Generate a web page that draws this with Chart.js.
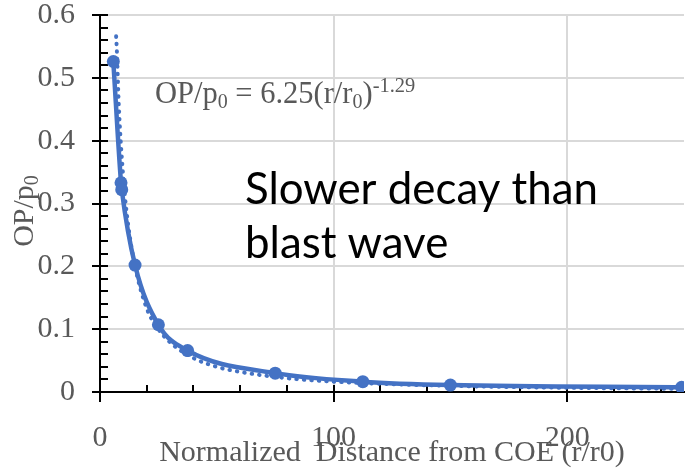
<!DOCTYPE html>
<html>
<head>
<meta charset="utf-8">
<script src="https://cdn.jsdelivr.net/npm/chart.js@4"></script>
<style>
    html, body { margin: 0; padding: 0; background: #fff; }
    canvas { display: block; }
</style>
</head>
<body>
<canvas id="decayChart" width="691" height="476"></canvas>
<script>
// Overpressure vs normalized distance

// measured points (big markers)
const distance = [5.7, 9.0, 9.3, 15, 25, 37.5, 75, 112.5, 150, 249];
const overpressure = [0.526, 0.333, 0.322, 0.202, 0.107, 0.066, 0.030, 0.0165, 0.011, 0.0075];

// power trendline (dotted)
const trendDistance = [6.9, 7.2, 8, 10, 12, 15, 20, 25, 30, 40, 50, 60, 80, 100, 125, 150, 175, 200, 225, 250];
const trendPressure = [0.566, 0.545, 0.46, 0.34, 0.268, 0.2, 0.133, 0.1, 0.079, 0.054, 0.040, 0.032, 0.022, 0.0165, 0.0125, 0.0098, 0.0080, 0.0067, 0.0058, 0.0051];

// axis ticks
const xTickValues = [0, 100, 200];
const xMinorStep = 20;
const yMinorStep = 0.02;

const BLUE = '#4472C4';
const GREY_TEXT = '#595959';
const GRID = '#d9d9d9';
const SERIF = '"Liberation Serif", "Times New Roman", serif';

function toPoints(xs, ys) {
    return xs.map((x, i) => ({ x: x, y: ys[i] }));
}

// draw a list of text runs (normal / sub / superscript) starting at x
function drawRuns(ctx, x, y, runs) {
    runs.forEach(run => {
        ctx.font = `${run.size}px ${SERIF}`;
        ctx.fillText(run.text, x, y + (run.dy || 0));
        x += ctx.measureText(run.text).width;
    });
}

function runsWidth(ctx, runs) {
    let w = 0;
    runs.forEach(run => {
        ctx.font = `${run.size}px ${SERIF}`;
        w += ctx.measureText(run.text).width;
    });
    return w;
}

// axis tick marks (major crossing, minor inside)
const axisTicks = {
    id: 'axisTicks',
    beforeDatasetsDraw(chart) {
        const { ctx, chartArea, scales } = chart;
        const xs = scales.x, ys = scales.y;
        ctx.save();
        ctx.strokeStyle = '#000';
        ctx.lineWidth = 2;
        ctx.beginPath();
        for (let v = 0; v <= 0.6001; v += yMinorStep) {
            const py = Math.round(ys.getPixelForValue(v));
            const major = Math.abs(v * 10 - Math.round(v * 10)) < 1e-6;
            ctx.moveTo(chartArea.left - (major ? 8 : 0), py);
            ctx.lineTo(chartArea.left + 8, py);
        }
        for (let v = 0; v <= 250; v += xMinorStep) {
            const px = Math.round(xs.getPixelForValue(v));
            const major = v % 100 === 0;
            ctx.moveTo(px, chartArea.bottom - 7);
            ctx.lineTo(px, chartArea.bottom + (major ? 10 : 0));
        }
        ctx.stroke();
        ctx.restore();
    }
};

// y title with subscript, equation and the note
const chartTexts = {
    id: 'chartTexts',
    afterDraw(chart) {
        const ctx = chart.ctx;
        ctx.save();
        ctx.fillStyle = GREY_TEXT;
        ctx.textBaseline = 'alphabetic';
        ctx.textAlign = 'left';

        // y axis title, rotated
        const yTitle = [
            { text: 'OP/p', size: 30 },
            { text: '0', size: 20, dy: 5 }
        ];
        const tw = runsWidth(ctx, yTitle);
        ctx.save();
        ctx.translate(33, 211);
        ctx.rotate(-Math.PI / 2);
        drawRuns(ctx, -tw / 2, 0, yTitle);
        ctx.restore();

        // trendline equation
        drawRuns(ctx, 155, 103, [
            { text: 'OP/p', size: 30.5 },
            { text: '0', size: 20, dy: 5 },
            { text: ' = 6.25(r/r', size: 30.5 },
            { text: '0', size: 20, dy: 5 },
            { text: ')', size: 30.5 },
            { text: '-1.29', size: 20.5, dy: -11 }
        ]);

        // note
        ctx.fillStyle = '#000';
        let size = 40;
        ctx.font = `${size}px Lato, "Open Sans", sans-serif`;
        size = size * 353 / ctx.measureText('Slower decay than').width;
        ctx.font = `${size}px Lato, "Open Sans", sans-serif`;
        ctx.fillText('Slower decay than', 245, 204);
        ctx.fillText('blast wave', 245, 258);
        ctx.restore();
    }
};

function initChart() {
    const ctx = document.getElementById('decayChart');
    new Chart(ctx, {
        type: 'scatter',
        data: {
            datasets: [
                {
                    label: 'OP/p0',
                    data: toPoints(distance, overpressure),
                    showLine: true,
                    borderColor: BLUE,
                    backgroundColor: BLUE,
                    borderWidth: 4.5,
                    pointRadius: 6.5,
                    pointBorderWidth: 0,
                    cubicInterpolationMode: 'monotone',
                    order: 1
                },
                {
                    label: 'Power trend',
                    data: toPoints(trendDistance, trendPressure),
                    showLine: true,
                    borderColor: BLUE,
                    borderWidth: 4,
                    borderDash: [0.5, 7],
                    borderCapStyle: 'round',
                    pointRadius: 0,
                    cubicInterpolationMode: 'monotone',
                    order: 2
                }
            ]
        },
        options: {
            responsive: false,
            animation: false,
            devicePixelRatio: 1,
            layout: { padding: { top: 15, right: 7, left: 0, bottom: 0 } },
            plugins: {
                legend: { display: false },
                tooltip: { enabled: false }
            },
            scales: {
                x: {
                    type: 'linear',
                    min: 0,
                    max: 250,
                    afterBuildTicks: scale => {
                        scale.ticks = xTickValues.map(v => ({ value: v }));
                    },
                    afterFit: scale => {
                        scale.height = 84;
                        scale.paddingLeft = 0;
                        scale.paddingRight = 0;
                    },
                    grid: {
                        color: c => (c.tick && c.tick.value === 0 ? 'rgba(0,0,0,0)' : GRID),
                        lineWidth: 2,
                        drawTicks: false
                    },
                    border: { color: '#000', width: 2 },
                    ticks: {
                        padding: 31,
                        color: GREY_TEXT,
                        font: { family: SERIF, size: 30, lineHeight: 1 },
                        maxRotation: 0
                    },
                    title: {
                        display: true,
                        text: 'Normalized  Distance from COE (r/r0)',
                        color: GREY_TEXT,
                        font: { family: SERIF, size: 30, lineHeight: 1 },
                        padding: { top: 0, bottom: 8 }
                    }
                },
                y: {
                    min: 0,
                    max: 0.6,
                    afterFit: scale => {
                        scale.width = 100;
                        scale.paddingTop = 0;
                        scale.paddingBottom = 0;
                    },
                    ticks: {
                        stepSize: 0.1,
                        padding: 25,
                        color: GREY_TEXT,
                        font: { family: SERIF, size: 30, lineHeight: 1 },
                        callback: v => (Math.abs(v) < 1e-9 ? '0' : v.toFixed(1))
                    },
                    grid: {
                        color: c => (c.tick && Math.abs(c.tick.value) < 1e-9 ? 'rgba(0,0,0,0)' : GRID),
                        lineWidth: 2,
                        drawTicks: false
                    },
                    border: { color: '#000', width: 2 }
                }
            }
        },
        plugins: [axisTicks, chartTexts]
    });
}

document.addEventListener('DOMContentLoaded', initChart);
</script>
</body>
</html>
